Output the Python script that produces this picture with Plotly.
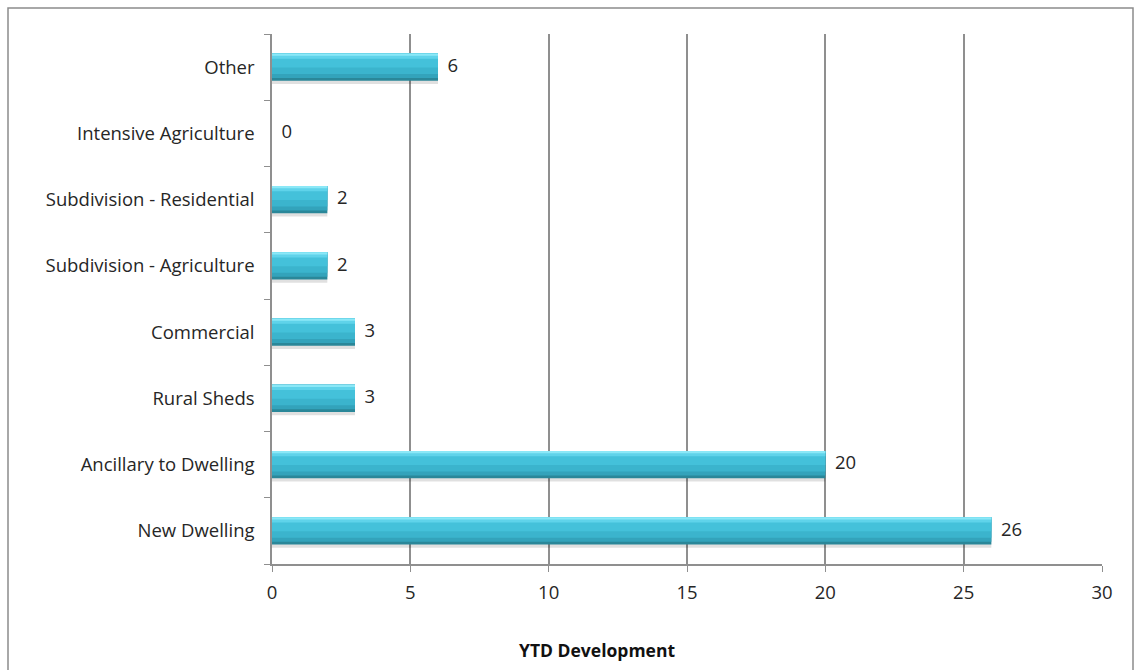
import plotly.graph_objects as go

# Development types (bottom to top) and year-to-date counts
categories = [
    "New Dwelling",
    "Ancillary to Dwelling",
    "Rural Sheds",
    "Commercial",
    "Subdivision - Agriculture",
    "Subdivision - Residential",
    "Intensive Agriculture",
    "Other",
]
counts = [26, 20, 3, 3, 2, 2, 0, 6]
x_ticks = [0, 5, 10, 15, 20, 25, 30]

FONT = "Open Sans"
TEXT = "#262626"
GRID = "#8f8f8f"
SIZE = 18.5
BAR_W = 0.41
half = BAR_W / 2

fig = go.Figure()

# soft drop shadow under each bar
fig.add_trace(go.Bar(
    y=categories, x=counts, orientation="h",
    width=BAR_W, offset=-half - 0.05,
    marker=dict(color="rgba(0,0,0,0.12)", line=dict(width=0)),
    hoverinfo="skip", showlegend=False,
))
# bar body, layered bands to give a bevelled look
bands = [
    (BAR_W, -half, "#2a8799"),
    (BAR_W - 0.04, -half + 0.04, "#33a3bb"),
    (BAR_W - 0.10, -half + 0.10, "#3bb4cd"),
    (BAR_W - 0.20, -half + 0.20, "#44c1da"),
    (0.08, half - 0.08, "#5fd3ea"),
    (0.035, half - 0.035, "#8be8f7"),
]
for w, off, col in bands:
    fig.add_trace(go.Bar(
        y=categories, x=counts, orientation="h",
        width=w, offset=off,
        marker=dict(color=col, line=dict(width=0)),
        hoverinfo="skip", showlegend=False,
    ))

# value labels to the right of each bar
fig.add_trace(go.Scatter(
    y=categories, x=counts, mode="text",
    text=["  " + str(v) for v in counts],
    textposition="middle right",
    textfont=dict(family=FONT, size=SIZE, color=TEXT),
    hoverinfo="skip", showlegend=False,
))

fig.update_layout(
    width=1134, height=670,
    margin=dict(l=272, r=32, t=34, b=106),
    paper_bgcolor="white", plot_bgcolor="white",
    barmode="overlay",
    font=dict(family=FONT, size=SIZE, color=TEXT),
    xaxis=dict(
        range=[0, 30], tickvals=x_ticks,
        showgrid=True, gridcolor=GRID, gridwidth=1.5,
        zeroline=False, showline=True, linecolor=GRID, linewidth=1.5,
        ticks="outside", ticklen=6, tickcolor=GRID, ticklabelstandoff=5,
        tickfont=dict(family=FONT, size=SIZE, color=TEXT),
    ),
    yaxis=dict(
        type="category", categoryorder="array", categoryarray=categories,
        range=[-0.5, len(categories) - 0.5],
        showgrid=False, zeroline=False,
        showline=True, linecolor=GRID, linewidth=1.5,
        ticks="outside", ticklen=6, tickcolor=GRID, tickson="boundaries",
        ticklabelstandoff=12,
        tickfont=dict(family=FONT, size=SIZE, color=TEXT),
    ),
    annotations=[dict(
        text="<b>YTD Development</b>", xref="paper", yref="paper",
        x=(597 - 272) / 830, y=-86 / 530, xanchor="center", yanchor="middle",
        showarrow=False, font=dict(family=FONT, size=17.5, color="#111"),
    )],
    shapes=[dict(
        type="rect", xref="paper", yref="paper",
        x0=-264 / 830, x1=1.0 + 31 / 830, y0=-0.3, y1=1.0 + 26 / 530,
        line=dict(color="#8c8c8c", width=1.5), fillcolor="rgba(0,0,0,0)",
        layer="below",
    )],
)

fig.write_html("out.html")
